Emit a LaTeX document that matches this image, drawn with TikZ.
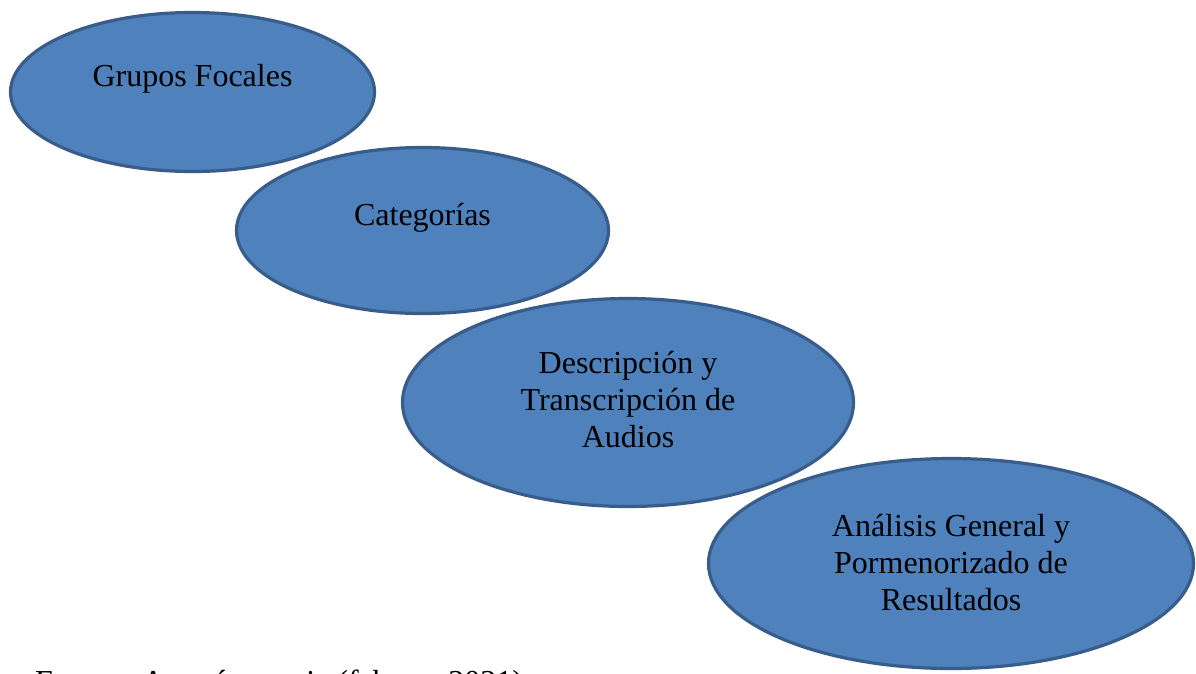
\documentclass[tikz,border=0pt]{standalone}
\usepackage{fontspec}
\setmainfont{Liberation Serif}
\usetikzlibrary{shapes.geometric}
\definecolor{fillblue}{HTML}{4F81BD}
\definecolor{edgeblue}{HTML}{385D8A}
\tikzset{
  oval/.style={ellipse, draw=edgeblue, fill=fillblue, line width=3.2pt, inner sep=0pt, outer sep=0pt},
  label text/.style={align=center, inner sep=0pt, font=\fontsize{32}{37}\selectfont, text=black},
  source text/.style={inner sep=0pt, font=\fontsize{32}{37}\selectfont, text=black}
}
\begin{document}
\begin{tikzpicture}[x=1pt, y=-1pt]
\useasboundingbox (0,0) rectangle (1196,673);
\clip (0,0) rectangle (1196,673);
\fill[white] (0,0) rectangle (1196,673);
\node[oval, minimum width=364pt, minimum height=159pt] (g1) at (192.5,92) {};
\node[oval, minimum width=372pt, minimum height=166pt] (g2) at (422.5,230.5) {};
\node[oval, minimum width=451pt, minimum height=208pt] (g3) at (628,402.5) {};
\node[oval, minimum width=485pt, minimum height=210pt] (g4) at (951,563.5) {};
\node[label text, anchor=base] (t1) at ([yshift=6pt]g1.center) {Grupos Focales};
\node[label text, anchor=base] (t2) at ([yshift=5.5pt]g2.center) {Categorías};
\node[label text] (t3) at ([yshift=3pt]g3.center) {Descripción y\\Transcripción de\\Audios};
\node[label text] (t4) at ([yshift=1pt]g4.center) {Análisis General y\\Pormenorizado de\\Resultados};
\node[source text, anchor=base west] (src) at (35,692) {Fuente: Autoría propia (febrero 2021)};
\end{tikzpicture}
\end{document}
